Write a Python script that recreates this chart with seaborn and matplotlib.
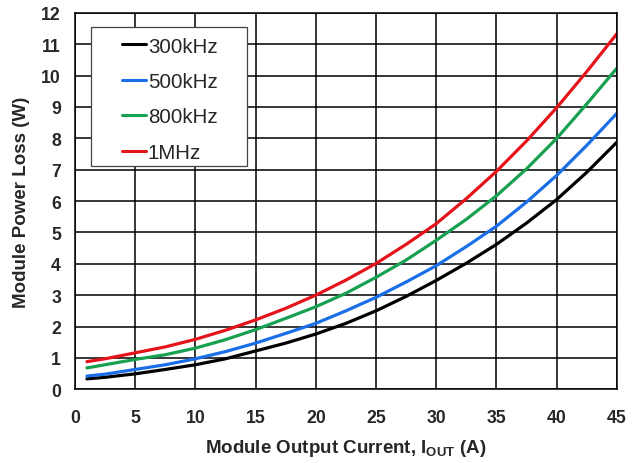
import matplotlib
matplotlib.use("Agg")
import matplotlib.pyplot as plt
from matplotlib.patches import Rectangle
import pandas as pd
import seaborn as sns

# values
current = [1, 2.5, 5, 7.5, 10, 12.5, 15, 17.5, 20, 22.5, 25, 27.5, 30, 32.5, 35, 37.5, 40, 42.5, 45]
loss_300k = [0.33, 0.38, 0.49, 0.63, 0.78, 0.97, 1.22, 1.47, 1.76, 2.10, 2.50, 2.96, 3.47, 4.02, 4.62, 5.30, 6.05, 6.92, 7.88]
loss_500k = [0.42, 0.48, 0.63, 0.78, 0.97, 1.20, 1.47, 1.78, 2.10, 2.50, 2.93, 3.42, 3.94, 4.55, 5.20, 5.97, 6.82, 7.78, 8.80]
loss_800k = [0.68, 0.78, 0.95, 1.10, 1.31, 1.58, 1.90, 2.26, 2.63, 3.06, 3.57, 4.12, 4.75, 5.42, 6.17, 7.03, 8.00, 9.10, 10.24]
loss_1m = [0.88, 0.97, 1.16, 1.35, 1.59, 1.88, 2.21, 2.58, 3.00, 3.48, 4.01, 4.62, 5.28, 6.08, 6.95, 7.92, 8.98, 10.13, 11.34]
series = ["300kHz", "500kHz", "800kHz", "1MHz"]
colors = ["#000000", "#1a6fe8", "#16a050", "#e5141b"]

df = pd.concat([
    pd.DataFrame({"Iout": current, "Loss": v, "Freq": s})
    for s, v in zip(series, [loss_300k, loss_500k, loss_800k, loss_1m])
])

sns.set_style("white")
plt.rcParams["font.family"] = ["Liberation Sans", "DejaVu Sans"]
plt.rcParams["mathtext.fontset"] = "custom"
plt.rcParams["mathtext.bf"] = "Liberation Sans:bold"
plt.rcParams["mathtext.rm"] = "Liberation Sans"

fig = plt.figure(figsize=(6.4, 4.64), dpi=100)
ax = fig.add_axes([0.117, 0.159, 0.847, 0.811])

sns.lineplot(data=df, x="Iout", y="Loss", hue="Freq", hue_order=series,
             palette=colors, linewidth=2.3, ax=ax)

ax.set_xlim(0, 45)
ax.set_ylim(0, 12)
ax.set_xticks(range(0, 46, 5))
ax.set_yticks(range(0, 13))
ax.grid(True, color="black", linewidth=1.1)
ax.set_axisbelow(True)
for sp in ax.spines.values():
    sp.set_color("black")
    sp.set_linewidth(1.1)
ax.tick_params(length=0, labelsize=12.7)
ax.tick_params(axis="x", pad=14)
ax.tick_params(axis="y", pad=10)
for lab in ax.get_xticklabels() + ax.get_yticklabels():
    lab.set_fontweight("bold")

ax.set_xlabel(r"Module Output Current, $\mathbf{I_{OUT}}$ (A)",
              fontsize=13.5, fontweight="bold", labelpad=8)
ax.set_ylabel("Module Power Loss (W)", fontsize=13.5, fontweight="bold", labelpad=8)

# legend box drawn separately so the wide side margins match
ax.add_patch(Rectangle((0.142, 0.640), 0.244, 0.2996, transform=fig.transFigure,
                       facecolor="white", edgecolor="#444444", linewidth=0.9,
                       zorder=4, clip_on=False))
leg = ax.legend(loc="upper left", bbox_to_anchor=(0.190, 0.919),
                bbox_transform=fig.transFigure, fontsize=14.8, frameon=False,
                handlelength=1.17, handletextpad=0.1, labelspacing=0.8,
                borderpad=0, borderaxespad=0, title=None)
leg.set_zorder(6)
for ln in leg.get_lines():
    ln.set_linewidth(2.2)

fig.savefig("out.png", dpi=100)
